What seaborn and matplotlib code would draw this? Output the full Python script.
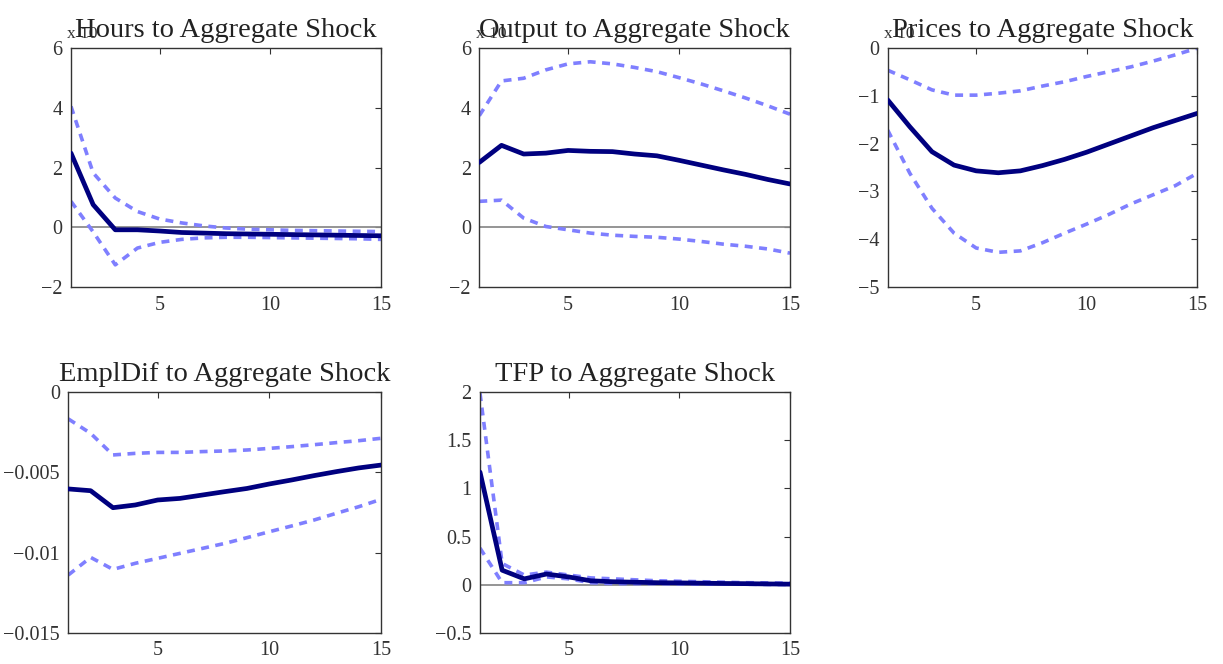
import numpy as np
import pandas as pd
import matplotlib
matplotlib.use("Agg")
import matplotlib.pyplot as plt
import seaborn as sns

# ---------------- data ----------------
horizon = list(range(1, 16))

titles = ["Hours to Aggregate Shock", "Output to Aggregate Shock", "Prices to Aggregate Shock",
          "EmplDif to Aggregate Shock", "TFP to Aggregate Shock"]

# Hours (x 10^-3)
hours_mean = [2.48, 0.76, -0.08, -0.08, -0.12, -0.17, -0.19, -0.21, -0.22, -0.23, -0.24, -0.25, -0.26, -0.27, -0.28]
hours_up = [4.04, 1.82, 0.98, 0.53, 0.28, 0.15, 0.05, -0.02, -0.06, -0.08, -0.10, -0.11, -0.12, -0.13, -0.14]
hours_lo = [0.87, -0.15, -1.25, -0.69, -0.50, -0.40, -0.35, -0.33, -0.33, -0.34, -0.35, -0.36, -0.37, -0.38, -0.40]

# Output (x 10^-3)
output_mean = [2.17, 2.74, 2.45, 2.48, 2.57, 2.54, 2.53, 2.45, 2.39, 2.24, 2.08, 1.92, 1.77, 1.60, 1.45]
output_up = [3.73, 4.89, 4.98, 5.26, 5.46, 5.53, 5.46, 5.34, 5.20, 5.00, 4.79, 4.56, 4.32, 4.06, 3.78]
output_lo = [0.87, 0.91, 0.31, 0.03, -0.08, -0.19, -0.26, -0.30, -0.33, -0.39, -0.47, -0.56, -0.63, -0.72, -0.86]

# Prices (x 10^-3)
prices_mean = [-1.09, -1.65, -2.17, -2.45, -2.57, -2.61, -2.57, -2.46, -2.33, -2.18, -2.01, -1.84, -1.67, -1.52, -1.37]
prices_up = [-0.47, -0.67, -0.88, -0.99, -0.99, -0.95, -0.90, -0.80, -0.71, -0.60, -0.50, -0.40, -0.28, -0.15, -0.01]
prices_lo = [-1.72, -2.62, -3.35, -3.87, -4.18, -4.27, -4.24, -4.07, -3.87, -3.68, -3.48, -3.26, -3.07, -2.88, -2.62]

# EmplDif
empl_mean = [-0.00603, -0.00614, -0.00720, -0.00703, -0.00672, -0.00662, -0.00641, -0.00620, -0.00600,
             -0.00572, -0.00547, -0.00520, -0.00495, -0.00472, -0.00454]
empl_up = [-0.00166, -0.00256, -0.00391, -0.00381, -0.00375, -0.00375, -0.00370, -0.00366, -0.00360,
           -0.00350, -0.00339, -0.00327, -0.00314, -0.00302, -0.00287]
empl_lo = [-0.01140, -0.01030, -0.01105, -0.01067, -0.01036, -0.01005, -0.00974, -0.00943, -0.00907,
           -0.00870, -0.00834, -0.00797, -0.00755, -0.00714, -0.00668]

# TFP
tfp_mean = [1.17, 0.15, 0.06, 0.11, 0.08, 0.04, 0.03, 0.025, 0.02, 0.018, 0.015, 0.012, 0.01, 0.007, 0.005]
tfp_up = [1.99, 0.22, 0.10, 0.13, 0.10, 0.07, 0.06, 0.05, 0.04, 0.035, 0.03, 0.025, 0.02, 0.018, 0.015]
tfp_lo = [0.38, 0.02, 0.02, 0.08, 0.06, 0.02, 0.01, 0.01, 0.01, 0.008, 0.006, 0.005, 0.004, 0.002, 0.0]

ylims = [(-2, 6), (-2, 6), (-5, 0), (-0.015, 0), (-0.5, 2)]
yticks = [[-2, 0, 2, 4, 6], [-2, 0, 2, 4, 6], [-5, -4, -3, -2, -1, 0],
          [-0.015, -0.01, -0.005, 0], [-0.5, 0, 0.5, 1, 1.5, 2]]
yticklabels = [["\u22122", "0", "2", "4", "6"], ["\u22122", "0", "2", "4", "6"],
               ["\u22125", "\u22124", "\u22123", "\u22122", "\u22121", "0"],
               ["\u22120.015", "\u22120.01", "\u22120.005", "0"],
               ["\u22120.5", "0", "0.5", "1", "1.5", "2"]]
xticks = [5, 10, 15]
scale_note = ["x 10", "x 10", "x 10", None, None]

series = [
    (hours_mean, hours_up, hours_lo),
    (output_mean, output_up, output_lo),
    (prices_mean, prices_up, prices_lo),
    (empl_mean, empl_up, empl_lo),
    (tfp_mean, tfp_up, tfp_lo),
]

# ---------------- style ----------------
sns.set_style("white")
plt.rcParams["font.family"] = ["Liberation Serif", "DejaVu Serif"]
plt.rcParams["axes.unicode_minus"] = True

W, H = 1223, 664
fig = plt.figure(figsize=(W / 100, H / 100), dpi=100)

# axes boxes in pixels: left, right, top, bottom
boxes = [
    (71, 381, 47.7, 287.3),
    (479.3, 790, 47.7, 287.3),
    (887.7, 1197.3, 47.7, 287.3),
    (68.3, 381, 392.3, 632.7),
    (480, 790, 392.3, 632.7),
]

mean_col = "#00007f"
band_col = "#7f7fff"

for i, (title, (m, up, lo)) in enumerate(zip(titles, series)):
    l, r, t, b = boxes[i]
    ax = fig.add_axes([l / W, 1 - b / H, (r - l) / W, (b - t) / H])
    df = pd.DataFrame({"h": horizon, "mean": m, "upper": up, "lower": lo})
    ax.axhline(0, color="#8c8c8c", lw=1.3, zorder=1)
    for col in ["upper", "lower"]:
        sns.lineplot(data=df, x="h", y=col, ax=ax, color=band_col, lw=2.6,
                     linestyle=(0, (2.2, 1.8)), zorder=2)
    sns.lineplot(data=df, x="h", y="mean", ax=ax, color=mean_col, lw=3.4, zorder=3)
    ax.set_xlim(1, 15)
    ax.set_ylim(*ylims[i])
    ax.set_xticks(xticks)
    ax.set_yticks(yticks[i])
    ax.set_yticklabels(yticklabels[i])
    ax.set_xlabel("")
    ax.set_ylabel("")
    ax.tick_params(direction="in", length=4, width=0.8, top=True, right=True,
                   labelsize=14.5, colors="#333333", labelcolor="#333333", pad=6)
    for s in ax.spines.values():
        s.set_color("#333333")
        s.set_linewidth(1.0)
        s.set_visible(True)
    ax.set_title(title, fontsize=20.5, color="#222222", pad=8)
    if scale_note[i]:
        ax.text(-0.012, 1.025, scale_note[i], transform=ax.transAxes, fontsize=12.5,
                color="#333333", ha="left", va="bottom", zorder=0)

fig.savefig("out.png", dpi=100, facecolor="white")
